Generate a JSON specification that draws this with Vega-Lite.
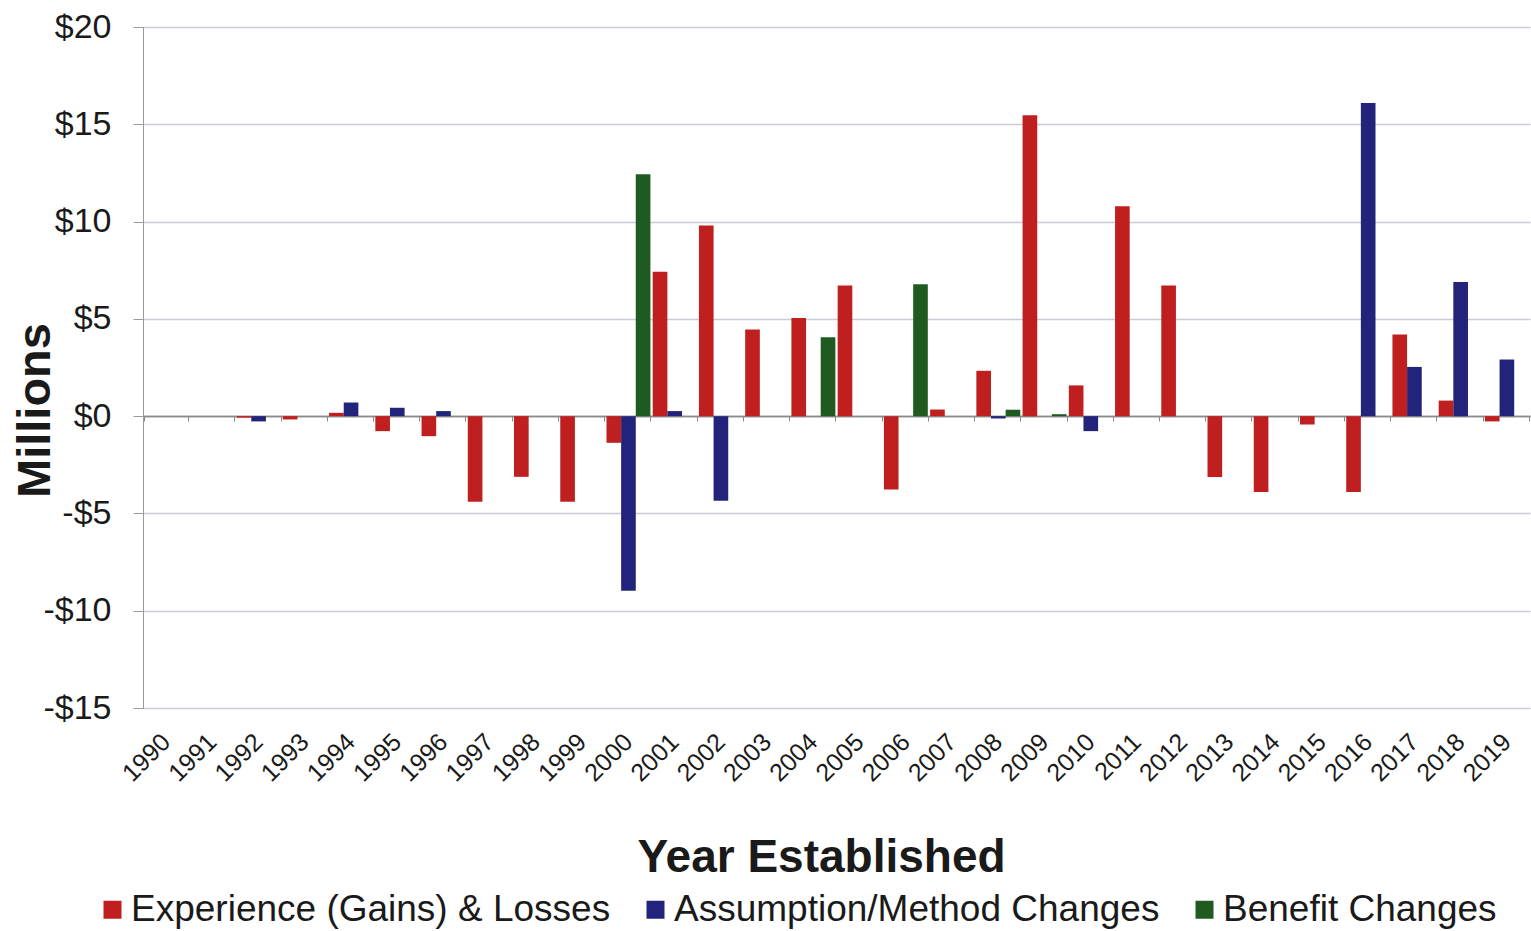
{
  "$schema": "https://vega.github.io/schema/vega-lite/v6.json",
  "autosize": "none",
  "width": 1387,
  "height": 681,
  "padding": {"left": 143, "top": 27, "right": 1, "bottom": 223},
  "background": "white",
  "config": {"font": "Liberation Sans", "view": {"stroke": null}},
  "data": {
    "values": [
      {"Year": "1992", "Series": "Experience (Gains) & Losses", "Value": -0.08},
      {"Year": "1992", "Series": "Assumption/Method Changes", "Value": -0.27},
      {"Year": "1993", "Series": "Experience (Gains) & Losses", "Value": -0.17},
      {"Year": "1994", "Series": "Experience (Gains) & Losses", "Value": 0.17},
      {"Year": "1994", "Series": "Assumption/Method Changes", "Value": 0.7},
      {"Year": "1995", "Series": "Experience (Gains) & Losses", "Value": -0.77},
      {"Year": "1995", "Series": "Assumption/Method Changes", "Value": 0.43},
      {"Year": "1996", "Series": "Experience (Gains) & Losses", "Value": -1.03},
      {"Year": "1996", "Series": "Assumption/Method Changes", "Value": 0.26},
      {"Year": "1997", "Series": "Experience (Gains) & Losses", "Value": -4.4},
      {"Year": "1998", "Series": "Experience (Gains) & Losses", "Value": -3.12},
      {"Year": "1999", "Series": "Experience (Gains) & Losses", "Value": -4.4},
      {"Year": "2000", "Series": "Experience (Gains) & Losses", "Value": -1.37},
      {"Year": "2000", "Series": "Assumption/Method Changes", "Value": -8.98},
      {"Year": "2000", "Series": "Benefit Changes", "Value": 12.43},
      {"Year": "2001", "Series": "Experience (Gains) & Losses", "Value": 7.42},
      {"Year": "2001", "Series": "Assumption/Method Changes", "Value": 0.26},
      {"Year": "2002", "Series": "Experience (Gains) & Losses", "Value": 9.8},
      {"Year": "2002", "Series": "Assumption/Method Changes", "Value": -4.35},
      {"Year": "2003", "Series": "Experience (Gains) & Losses", "Value": 4.45},
      {"Year": "2004", "Series": "Experience (Gains) & Losses", "Value": 5.05},
      {"Year": "2004", "Series": "Benefit Changes", "Value": 4.06},
      {"Year": "2005", "Series": "Experience (Gains) & Losses", "Value": 6.71},
      {"Year": "2006", "Series": "Experience (Gains) & Losses", "Value": -3.77},
      {"Year": "2006", "Series": "Benefit Changes", "Value": 6.78},
      {"Year": "2007", "Series": "Experience (Gains) & Losses", "Value": 0.34},
      {"Year": "2008", "Series": "Experience (Gains) & Losses", "Value": 2.33},
      {"Year": "2008", "Series": "Assumption/Method Changes", "Value": -0.12},
      {"Year": "2008", "Series": "Benefit Changes", "Value": 0.33},
      {"Year": "2009", "Series": "Experience (Gains) & Losses", "Value": 15.47},
      {"Year": "2009", "Series": "Benefit Changes", "Value": 0.1},
      {"Year": "2010", "Series": "Experience (Gains) & Losses", "Value": 1.58},
      {"Year": "2010", "Series": "Assumption/Method Changes", "Value": -0.77},
      {"Year": "2011", "Series": "Experience (Gains) & Losses", "Value": 10.79},
      {"Year": "2012", "Series": "Experience (Gains) & Losses", "Value": 6.71},
      {"Year": "2013", "Series": "Experience (Gains) & Losses", "Value": -3.13},
      {"Year": "2014", "Series": "Experience (Gains) & Losses", "Value": -3.9},
      {"Year": "2015", "Series": "Experience (Gains) & Losses", "Value": -0.43},
      {"Year": "2016", "Series": "Experience (Gains) & Losses", "Value": -3.9},
      {"Year": "2016", "Series": "Assumption/Method Changes", "Value": 16.1},
      {"Year": "2017", "Series": "Experience (Gains) & Losses", "Value": 4.2},
      {"Year": "2017", "Series": "Assumption/Method Changes", "Value": 2.53},
      {"Year": "2018", "Series": "Experience (Gains) & Losses", "Value": 0.8},
      {"Year": "2018", "Series": "Assumption/Method Changes", "Value": 6.9},
      {"Year": "2019", "Series": "Experience (Gains) & Losses", "Value": -0.27},
      {"Year": "2019", "Series": "Assumption/Method Changes", "Value": 2.91}
    ]
  },
  "mark": {"type": "bar"},
  "encoding": {
    "x": {
      "field": "Year",
      "type": "ordinal",
      "scale": {
        "domain": ["1990","1991","1992","1993","1994","1995","1996","1997","1998","1999","2000","2001","2002","2003","2004","2005","2006","2007","2008","2009","2010","2011","2012","2013","2014","2015","2016","2017","2018","2019"],
        "paddingInner": 0.05,
        "paddingOuter": 0.025
      },
      "axis": {
        "title": "Year Established",
        "orient": "bottom",
        "offset": -292,
        "grid": false,
        "domainColor": "#8a8a8a",
        "domainWidth": 1.5,
        "ticks": true,
        "tickBand": "extent",
        "tickSize": 5,
        "tickColor": "#8a8a8a",
        "labelAngle": -45,
        "labelAlign": "right",
        "labelBaseline": "top",
        "labelFontSize": 25,
        "labelColor": "#1a1a1a",
        "labelPadding": 308,
        "labelOffset": -9,
        "labelOverlap": false,
        "labelFlush": false,
        "labelBound": false,
        "titleFontSize": 46,
        "titleFontWeight": "bold",
        "titleColor": "#1a1a1a",
        "titleX": 678,
        "titleY": 455,
        "titleAlign": "center",
        "titleBaseline": "alphabetic"
      }
    },
    "xOffset": {
      "field": "Series",
      "scale": {
        "domain": ["Experience (Gains) & Losses", "Assumption/Method Changes", "Benefit Changes"],
        "paddingInner": 0,
        "paddingOuter": 0
      }
    },
    "y": {
      "field": "Value",
      "type": "quantitative",
      "scale": {"domain": [-15, 20], "nice": false, "zero": false},
      "axis": {
        "title": "Millions",
        "values": [-15, -10, -5, 0, 5, 10, 15, 20],
        "labelExpr": "datum.value < 0 ? '-$' + abs(datum.value) : '$' + datum.value",
        "labelFontSize": 34,
        "labelColor": "#1a1a1a",
        "labelPadding": 22,
        "tickSize": 10,
        "tickColor": "#9a9a9a",
        "domainColor": "#9a9a9a",
        "grid": true,
        "gridColor": {"condition": {"test": "datum.value === 0", "value": "#8a8a8a"}, "value": "#c9ccd6"},
        "gridWidth": 1.5,
        "titleFontSize": 47,
        "titleFontWeight": "bold",
        "titleColor": "#1a1a1a",
        "titleAngle": 270,
        "titleX": -94,
        "titleY": 383,
        "titleAlign": "center",
        "titleBaseline": "alphabetic"
      }
    },
    "color": {
      "field": "Series",
      "type": "nominal",
      "scale": {
        "domain": ["Experience (Gains) & Losses", "Assumption/Method Changes", "Benefit Changes"],
        "range": ["#c01f1f", "#22237a", "#1f5b20"]
      },
      "legend": {
        "title": null,
        "orient": "none",
        "direction": "horizontal",
        "legendX": -49,
        "legendY": 864,
        "symbolType": "square",
        "symbolSize": 324,
        "symbolStrokeWidth": 0,
        "symbolOpacity": 1,
        "labelFontSize": 37,
        "labelColor": "#1a1a1a",
        "labelOffset": 0,
        "labelLimit": 1000,
        "columnPadding": 26
      }
    }
  }
}
